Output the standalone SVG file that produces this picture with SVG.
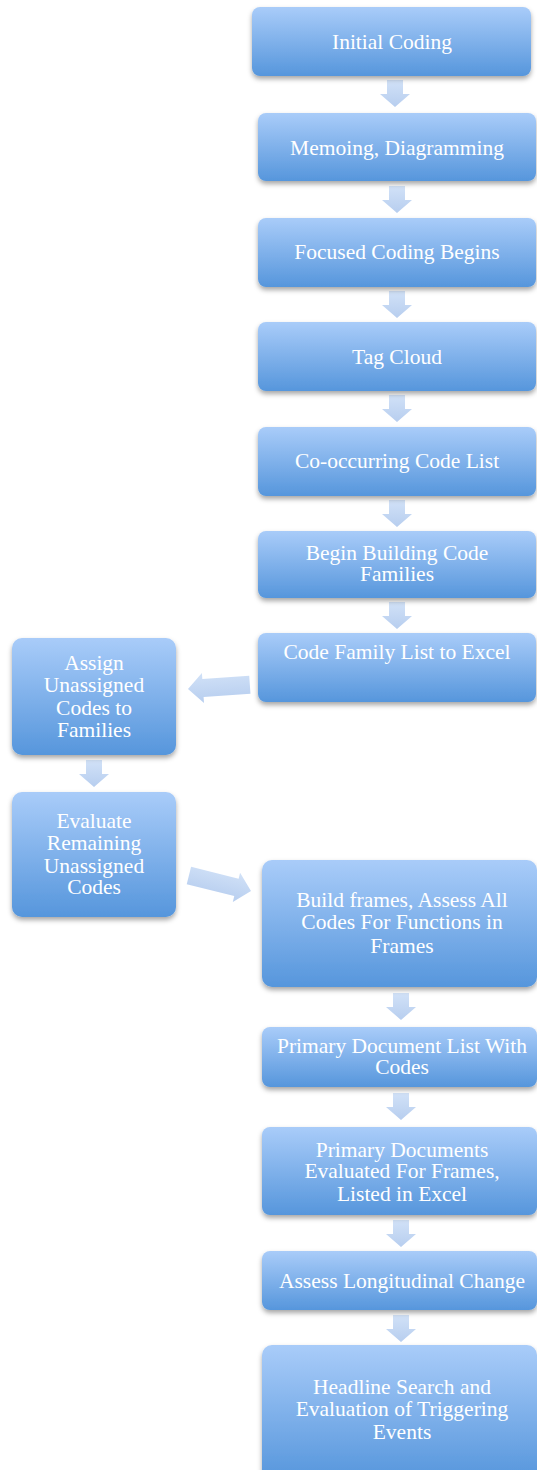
<svg xmlns="http://www.w3.org/2000/svg" width="537" height="1470" viewBox="0 0 537 1470">
<style>
.box{fill:url(#bg);filter:url(#sh)}
.t{font-family:"Liberation Serif","Times New Roman",serif;font-size:21.5px;fill:#ffffff;text-anchor:middle}
.arr{fill:url(#ag);opacity:0.95}
</style>
<defs>
<linearGradient id="bg" x1="0" y1="0" x2="0" y2="1">
<stop offset="0" stop-color="#a9ccf9"/>
<stop offset="1" stop-color="#5696dc"/>
</linearGradient>
<linearGradient id="ag" x1="0" y1="0" x2="0" y2="1">
<stop offset="0" stop-color="#cfe0f7"/>
<stop offset="1" stop-color="#b3cbee"/>
</linearGradient>
<filter id="sh" x="-10%" y="-10%" width="120%" height="130%">
<feDropShadow dx="0" dy="3" stdDeviation="2.5" flood-color="#000" flood-opacity="0.35"/>
</filter>
<path id="down" d="M-8,0 H8 V14 H15 L0,27 L-15,14 H-8 Z"/>
<path id="rt" d="M0,0 L-15,-15 V-9 H-64 V9 H-15 V15 Z"/>
</defs>
<g id="connectors">
<use href="#down" class="arr" x="395" y="80"/>
<use href="#down" class="arr" x="397" y="186"/>
<use href="#down" class="arr" x="397" y="291"/>
<use href="#down" class="arr" x="397" y="395"/>
<use href="#down" class="arr" x="397" y="500"/>
<use href="#down" class="arr" x="397" y="602"/>
<path class="arr" d="M0,0 L15,-15 V-9 H62 V9 H15 V15 Z" transform="translate(188,689) rotate(-4)"/>
<use href="#down" class="arr" x="94" y="760"/>
<use href="#rt" class="arr" transform="translate(251,891) rotate(14)"/>
<use href="#down" class="arr" x="401" y="993"/>
<use href="#down" class="arr" x="401" y="1093"/>
<use href="#down" class="arr" x="401" y="1220"/>
<use href="#down" class="arr" x="401" y="1315"/>
</g>
<g id="n1"><rect class="box" x="252" y="7" width="279" height="69" rx="8"/><text class="t" x="392" y="49">Initial Coding</text></g>
<g id="n2"><rect class="box" x="258" y="113" width="278" height="68" rx="8"/><text class="t" x="397" y="155">Memoing, Diagramming</text></g>
<g id="n3"><rect class="box" x="258" y="218" width="278" height="69" rx="8"/><text class="t" x="397" y="259">Focused Coding Begins</text></g>
<g id="n4"><rect class="box" x="258" y="322" width="278" height="69" rx="8"/><text class="t" x="397" y="364">Tag Cloud</text></g>
<g id="n5"><rect class="box" x="258" y="427" width="278" height="69" rx="8"/><text class="t" x="397" y="468">Co-occurring Code List</text></g>
<g id="n6"><rect class="box" x="258" y="531" width="278" height="67" rx="8"/><text class="t" x="397" y="560">Begin Building Code</text><text class="t" x="397" y="581">Families</text></g>
<g id="n7"><rect class="box" x="258" y="633" width="278" height="69" rx="8"/><text class="t" x="397" y="659">Code Family List to Excel</text></g>
<g id="nA"><rect class="box" x="12" y="638" width="164" height="117" rx="10"/><text class="t" x="94" y="670">Assign</text><text class="t" x="94" y="692">Unassigned</text><text class="t" x="94" y="715">Codes to</text><text class="t" x="94" y="737">Families</text></g>
<g id="nB"><rect class="box" x="12" y="792" width="164" height="125" rx="10"/><text class="t" x="94" y="828">Evaluate</text><text class="t" x="94" y="850">Remaining</text><text class="t" x="94" y="873">Unassigned</text><text class="t" x="94" y="894">Codes</text></g>
<g id="n8"><rect class="box" x="262" y="860" width="275" height="127" rx="10"/><text class="t" x="402" y="907">Build frames, Assess All</text><text class="t" x="402" y="929">Codes For Functions in</text><text class="t" x="402" y="953">Frames</text></g>
<g id="n9"><rect class="box" x="262" y="1027" width="275" height="60" rx="8"/><text class="t" x="402" y="1053">Primary Document List With</text><text class="t" x="402" y="1074">Codes</text></g>
<g id="n10"><rect class="box" x="262" y="1127" width="275" height="88" rx="8"/><text class="t" x="402" y="1157">Primary Documents</text><text class="t" x="402" y="1178">Evaluated For Frames,</text><text class="t" x="402" y="1201">Listed in Excel</text></g>
<g id="n11"><rect class="box" x="262" y="1251" width="275" height="59" rx="8"/><text class="t" x="402" y="1288">Assess Longitudinal Change</text></g>
<g id="n12"><rect class="box" x="262" y="1345" width="275" height="135" rx="10"/><text class="t" x="402" y="1394">Headline Search and</text><text class="t" x="402" y="1416">Evaluation of Triggering</text><text class="t" x="402" y="1439">Events</text></g>
</svg>
